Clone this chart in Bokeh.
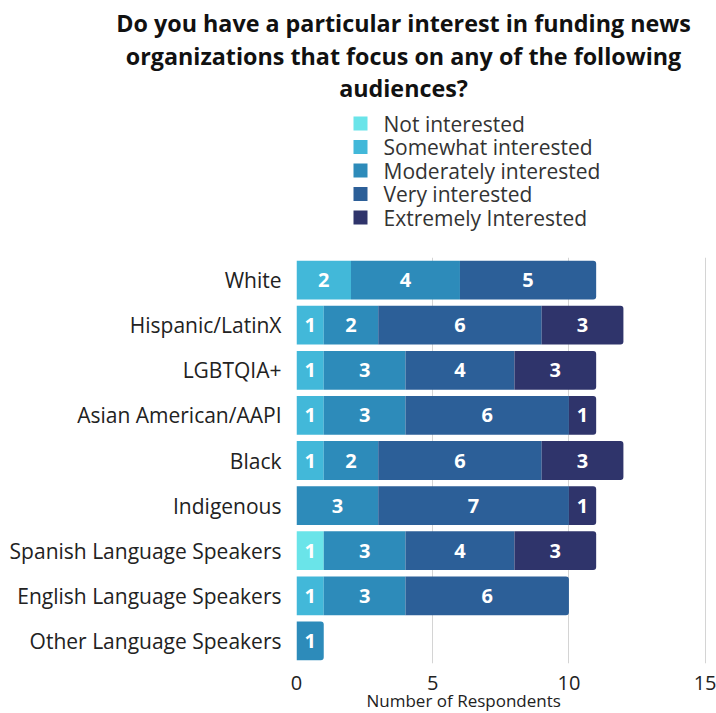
import numpy as np
from bokeh.plotting import figure
from bokeh.layouts import column
from bokeh.models import ColumnDataSource, FixedTicker, Range1d, Title
from bokeh.embed import file_html
from bokeh.resources import INLINE
from bokeh.core.properties import value

categories = ["White", "Hispanic/LatinX", "LGBTQIA+", "Asian American/AAPI", "Black",
              "Indigenous", "Spanish Language Speakers", "English Language Speakers",
              "Other Language Speakers"]
series_names = ["Not interested", "Somewhat interested", "Moderately interested",
                "Very interested", "Extremely Interested"]
not_interested = [0, 0, 0, 0, 0, 0, 1, 0, 0]
somewhat_interested = [2, 1, 1, 1, 1, 0, 0, 1, 0]
moderately_interested = [4, 2, 3, 3, 2, 3, 3, 3, 1]
very_interested = [5, 6, 4, 6, 6, 7, 4, 6, 0]
extremely_interested = [0, 3, 3, 1, 3, 1, 3, 0, 0]
colors = ["#6ae4e9", "#42b8d9", "#2d8bba", "#2c5f98", "#2f346b"]
x_ticks = [0, 5, 10, 15]
title_lines = ["Do you have a particular interest in funding news",
               "organizations that focus on any of the following",
               "audiences?"]
x_title = "Number of Respondents"

FONT = "Open Sans"
HEADER_H = 257

vals = np.array([not_interested, somewhat_interested, moderately_interested,
                 very_interested, extremely_interested], dtype=float)
cum = np.cumsum(vals, axis=0)
totals = cum[-1]
n = len(categories)
ypos = [n - 1 - i for i in range(n)]

# ---------- header figure: title + legend (pixel coordinates) ----------
top = figure(width=716, height=HEADER_H, x_range=Range1d(0, 716), y_range=Range1d(HEADER_H, 0),
             min_border=0, output_backend="svg", toolbar_location=None)
top.frame_align = False
top.axis.visible = False
top.grid.grid_line_color = None
top.outline_line_color = None
top.text(x=[403, 403, 403], y=[22, 55, 87], text=title_lines, text_align="center",
         text_baseline="middle", text_font=value(FONT), text_font_style="bold",
         text_font_size="23.3px", text_color="#111111")
leg_y = [123, 146.5, 170, 193.5, 217]
top.scatter(x=[360] * len(series_names), y=leg_y, marker="square", size=14,
            fill_color=colors, line_color=None)
top.text(x=[383] * len(series_names), y=leg_y, text=series_names, text_align="left",
         text_baseline="middle", text_font=value(FONT), text_font_size="21px",
         text_color="#333333")

# ---------- main chart ----------
p = figure(width=716, height=713 - HEADER_H, x_range=Range1d(0, 15.05),
           y_range=Range1d(-0.5, n - 0.5),
           min_border_left=296, min_border_right=10, min_border_top=0, min_border_bottom=50,
           output_backend="svg", toolbar_location=None)
p.frame_align = False
p.outline_line_color = None

lab_x, lab_y, lab_t = [], [], []
for s in range(len(series_names)):
    for last in (False, True):
        left, right, yy = [], [], []
        for i in range(n):
            v = vals[s, i]
            if v <= 0:
                continue
            rr = cum[s, i]
            l = rr - v
            if (rr == totals[i]) != last:
                continue
            left.append(l); right.append(rr); yy.append(ypos[i])
            lab_x.append((l + rr) / 2); lab_y.append(ypos[i]); lab_t.append(str(int(v)))
        src = ColumnDataSource(dict(left=left, right=right, y=yy))
        kw = dict(border_radius=(0, 3, 3, 0)) if last else {}
        p.hbar(y="y", left="left", right="right", height=0.86, source=src,
               fill_color=colors[s], line_color=None, **kw)

p.text(x=lab_x, y=lab_y, text=lab_t, text_align="center", text_baseline="middle",
       text_color="white", text_font=value(FONT), text_font_style="bold",
       text_font_size="20px")

p.xaxis.ticker = FixedTicker(ticks=x_ticks)
p.xaxis.axis_line_color = None
p.xaxis.major_tick_line_color = None
p.xaxis.minor_tick_line_color = None
p.xaxis.major_tick_out = 0
p.xaxis.major_tick_in = 0
p.xaxis.minor_tick_out = 0
p.xaxis.major_label_text_font = FONT
p.xaxis.major_label_text_font_size = "20px"
p.xaxis.major_label_text_color = "#222222"
p.xaxis.major_label_standoff = 12

p.yaxis.ticker = FixedTicker(ticks=ypos)
p.yaxis.major_label_overrides = {ypos[i]: categories[i] for i in range(n)}
p.yaxis.axis_line_color = None
p.yaxis.major_tick_line_color = None
p.yaxis.minor_tick_line_color = None
p.yaxis.major_tick_out = 0
p.yaxis.major_tick_in = 0
p.yaxis.minor_tick_out = 0
p.yaxis.major_label_text_font = FONT
p.yaxis.major_label_text_font_size = "21px"
p.yaxis.major_label_text_color = "#222222"
p.yaxis.major_label_standoff = 15

p.xgrid.ticker = FixedTicker(ticks=x_ticks)
p.xgrid.grid_line_color = "#d4d4d4"
p.ygrid.grid_line_color = None

p.add_layout(Title(text=x_title, align="left", offset=70, standoff=-11,
                   text_font=FONT, text_font_size="17px", text_font_style="normal",
                   text_color="#222222"), "below")

layout = column(top, p, spacing=0)
open("out.html", "w").write(file_html(layout, INLINE))
